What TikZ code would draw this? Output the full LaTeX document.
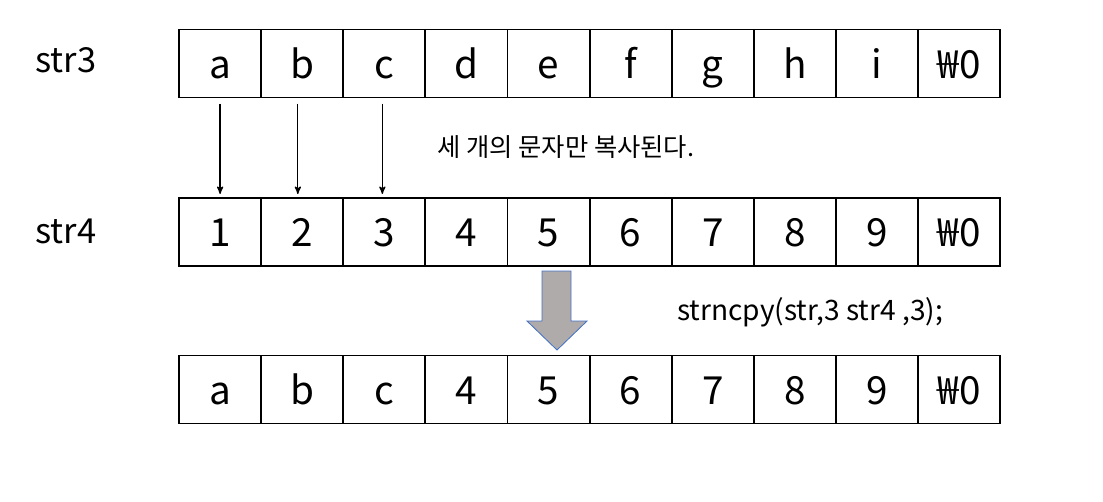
\documentclass[tikz,border=0pt]{standalone}
\usepackage{fontspec}
\setmainfont{Noto Sans CJK KR}
\usepackage{tikz}
\usetikzlibrary{arrows, positioning}
\definecolor{arrowgray}{RGB}{175,171,171}
\definecolor{arrowblue}{RGB}{68,114,196}
\tikzset{
    >=stealth', % arrow heads of the copy arrows
    cell/.style={draw, line width=1.3pt, minimum width=2.0525cm, minimum height=1.7cm,
        inner sep=0pt, outer sep=0pt, text height=0.725cm, text depth=0pt,
        font=\fontsize{27.5}{27.5}\selectfont}, % one box of the char array
    strlabel/.style={anchor=base west, inner sep=0pt, font=\fontsize{24.5}{24.5}\selectfont},
    note/.style={anchor=base west, inner sep=0pt},
}

\begin{document}
\begin{tikzpicture}[x=0.025cm, y=-0.025cm]
    \useasboundingbox (0,0) rectangle (1103,501);

    % str3
    \node[strlabel] (lab3) at (35,72) {str3};
    \node[cell] (s3-1) at (220.1,63.5) {a};
    \foreach \c [count=\i from 2, remember=\i as \j (initially 1)] in {b,c,d,e,f,g,h,i,₩0}
        \node[cell, right=0pt of s3-\j] (s3-\i) {\c};

    % str4
    \node[strlabel] (lab4) at (35,243) {str4};
    \node[cell] (s4-1) at (220.1,232) {1};
    \foreach \c [count=\i from 2, remember=\i as \j (initially 1)] in {2,3,4,5,6,7,8,9,₩0}
        \node[cell, right=0pt of s4-\j] (s4-\i) {\c};

    % result
    \node[cell] (r-1) at (220.1,389.5) {a};
    \foreach \c [count=\i from 2, remember=\i as \j (initially 1)] in {b,c,4,5,6,7,8,9,₩0}
        \node[cell, right=0pt of r-\j] (r-\i) {\c};

    % copied chars
    \foreach \i/\dx in {1/0, 2/-0.11, 3/-0.05}
        \draw[->, line width=0.9pt, shorten <=0.15cm, shorten >=0.1cm]
            ([xshift=\dx cm]s3-\i.south) -- ([xshift=\dx cm]s4-\i.north);

    \node[note, font=\fontsize{18}{18}\selectfont] (msg) at (437,156) {세 개의 문자만 복사된다.};

    % block arrow
    \filldraw[fill=arrowgray, draw=arrowblue, line width=0.6pt]
        (542,271) -- (571,271) -- (571,321) -- (587,321) -- (557,350)
        -- (527,321) -- (542,321) -- cycle;

    \node[note, font=\fontsize{20}{20}\selectfont] (call) at (677,320) {strncpy(str,3 str4 ,3);};
\end{tikzpicture}
\end{document}
